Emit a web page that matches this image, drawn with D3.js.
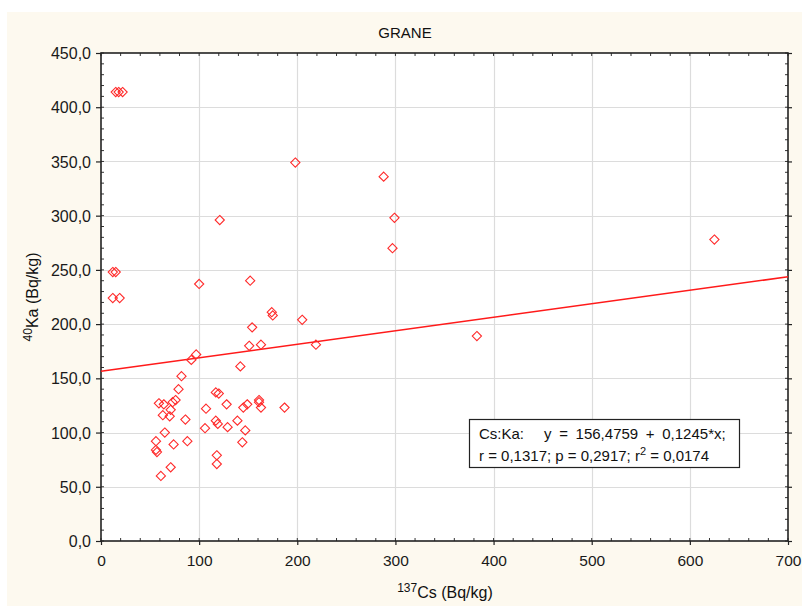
<!DOCTYPE html>
<html>
<head>
<meta charset="utf-8">
<script src="https://cdn.jsdelivr.net/npm/d3@7"></script>
<style>
  html, body { margin: 0; padding: 0; background: #ffffff; }
  svg { display: block; font-family: "Liberation Sans", Arial, sans-serif; }
</style>
</head>
<body>
<svg id="chart" width="803" height="606"></svg>
<script>
// 137Cs activity (x) and 40K activity (y), Bq/kg, GRANE samples
const cs = [15, 18, 22, 12, 15, 12, 19, 100, 121, 152, 174, 175, 205, 154, 151, 163, 219,
            198, 288, 299, 297, 625, 383, 92, 97, 142, 82, 79, 59, 64, 73, 76, 71, 63, 70,
            86, 65, 56, 56, 57, 74, 88, 71, 61, 107, 117, 120, 128, 145, 149, 161, 161, 163,
            187, 117, 119, 139, 129, 106, 147, 144, 118, 118];
const ka = [414, 414, 414, 248, 248, 224, 224, 237, 296, 240, 211, 208, 204, 197, 180, 181, 181,
            349, 336, 298, 270, 278, 189, 167, 172, 161, 152, 140, 127, 126, 128, 130, 121, 116, 115,
            112, 100, 92, 84, 82, 89, 92, 68, 60, 122, 137, 136, 126, 123, 126, 130, 128, 123,
            123, 111, 108, 111, 105, 104, 102, 91, 79, 71];

// Linear fit y = a + b*x
const fitIntercept = 156.4759;
const fitSlope = 0.1245;
const fitR = "0,1317", fitP = "0,2917", fitR2 = "0,0174";

const xTicks = [0, 100, 200, 300, 400, 500, 600, 700];
const yTicks = [0, 50, 100, 150, 200, 250, 300, 350, 400, 450];
const xMinor = d3.range(0, 701, 20);
const yMinor = d3.range(0, 451, 10);

const title = "GRANE";

const svg = d3.select("#chart");
const W = 803, H = 606;
const m = { left: 101, right: 788, top: 53, bottom: 541 };
const comma = v => v.replace(".", ",");

// panel background
svg.append("rect").attr("x", 7).attr("y", 12).attr("width", 795).attr("height", H - 12)
  .attr("fill", "#fdf9ef");

const x = d3.scaleLinear().domain([0, 700]).range([m.left, m.right]);
const y = d3.scaleLinear().domain([0, 450]).range([m.bottom, m.top]);

// plot area
svg.append("rect").attr("x", m.left).attr("y", m.top)
  .attr("width", m.right - m.left).attr("height", m.bottom - m.top).attr("fill", "#ffffff");

// grid
const grid = svg.append("g").attr("stroke", "#dcdcdc").attr("stroke-width", 1.2);
grid.selectAll("line.gx").data(xTicks.slice(1, -1)).join("line")
  .attr("x1", d => Math.round(x(d)) + 0.5).attr("x2", d => Math.round(x(d)) + 0.5)
  .attr("y1", m.top).attr("y2", m.bottom);
grid.selectAll("line.gy").data(yTicks.slice(1, -1)).join("line")
  .attr("y1", d => Math.round(y(d)) + 0.5).attr("y2", d => Math.round(y(d)) + 0.5)
  .attr("x1", m.left).attr("x2", m.right);

// minor ticks (inside frame)
const tk = svg.append("g").attr("stroke", "#333").attr("stroke-width", 1);
tk.selectAll("line.mb").data(xMinor).join("line")
  .attr("x1", d => x(d)).attr("x2", d => x(d)).attr("y1", m.bottom).attr("y2", m.bottom - 3);
tk.selectAll("line.mt").data(xMinor).join("line")
  .attr("x1", d => x(d)).attr("x2", d => x(d)).attr("y1", m.top).attr("y2", m.top + 3);
tk.selectAll("line.ml").data(yMinor).join("line")
  .attr("y1", d => y(d)).attr("y2", d => y(d)).attr("x1", m.left).attr("x2", m.left + 3);
tk.selectAll("line.mr").data(yMinor).join("line")
  .attr("y1", d => y(d)).attr("y2", d => y(d)).attr("x1", m.right).attr("x2", m.right - 3);

// axes with major ticks
const xAxis = svg.append("g").attr("transform", `translate(0,${m.bottom})`)
  .call(d3.axisBottom(x).tickValues(xTicks).tickSize(4).tickFormat(d3.format("d")));
const yAxis = svg.append("g").attr("transform", `translate(${m.left},0)`)
  .call(d3.axisLeft(y).tickValues(yTicks).tickSize(5).tickFormat(d => comma(d.toFixed(1))));
const yAxisR = svg.append("g").attr("transform", `translate(${m.right},0)`)
  .call(d3.axisRight(y).tickValues(yTicks).tickSize(4).tickFormat(""));
[xAxis, yAxis, yAxisR].forEach(g => {
  g.select(".domain").remove();
  g.selectAll(".tick line").attr("stroke", "#222").attr("stroke-width", 1.2);
  g.selectAll("text").attr("fill", "#1a1a1a").attr("font-size", 15.5)
    .attr("font-family", "\"Liberation Sans\", Arial, sans-serif");
});
xAxis.selectAll("text").attr("dy", null).attr("y", 25);
yAxis.selectAll("text").attr("x", -10).attr("dy", "0.35em").attr("font-size", 16);

// frame
svg.append("rect").attr("x", m.left).attr("y", m.top)
  .attr("width", m.right - m.left).attr("height", m.bottom - m.top)
  .attr("fill", "none").attr("stroke", "#222").attr("stroke-width", 1.6);

// regression line
svg.append("line")
  .attr("x1", x(0)).attr("y1", y(fitIntercept))
  .attr("x2", x(700)).attr("y2", y(fitIntercept + fitSlope * 700))
  .attr("stroke", "#ff1a1a").attr("stroke-width", 1.5);

// points (open diamonds)
const pts = cs.map((c, i) => ({ c, k: ka[i] }));
const r = 4.6;
svg.append("g").selectAll("path").data(pts).join("path")
  .attr("transform", d => `translate(${x(d.c)},${y(d.k)})`)
  .attr("d", `M0,${-r}L${r},0L0,${r}L${-r},0Z`)
  .attr("fill", "none").attr("stroke", "#ff2a2a").attr("stroke-width", 1.1);

// fit statistics box
const box = svg.append("g");
box.append("rect").attr("x", 469.5).attr("y", 419.5).attr("width", 270).attr("height", 48)
  .attr("fill", "#ffffff").attr("stroke", "#222").attr("stroke-width", 1.2);
const t1 = box.append("text").attr("y", 439).attr("font-size", 15).attr("fill", "#111");
t1.append("tspan").attr("x", 479).text("Cs:Ka:");
t1.append("tspan").attr("x", 544).attr("word-spacing", 3.5)
  .text(`y = ${comma(fitIntercept.toFixed(4))} + ${comma(fitSlope.toFixed(4))}*x;`);
const t2 = box.append("text").attr("x", 479).attr("y", 461).attr("font-size", 15).attr("fill", "#111");
t2.append("tspan").text(`r = ${fitR}; p = ${fitP}; r`);
t2.append("tspan").attr("dy", -6).attr("font-size", 11).text("2");
t2.append("tspan").attr("dy", 6).text(` = ${fitR2}`);

// title
svg.append("text").attr("x", 405).attr("y", 38).attr("text-anchor", "middle")
  .attr("font-size", 15).attr("fill", "#111").text(title);

// x-axis title
const xl = svg.append("text").attr("x", 445).attr("y", 598).attr("text-anchor", "middle")
  .attr("font-size", 16).attr("fill", "#111");
xl.append("tspan").attr("font-size", 12).attr("dy", -6).text("137");
xl.append("tspan").attr("dy", 6).text("Cs (Bq/kg)");

// y-axis title
const yl = svg.append("text").attr("transform", "translate(38,297) rotate(-90)")
  .attr("text-anchor", "middle").attr("font-size", 16).attr("fill", "#111");
yl.append("tspan").attr("font-size", 12).attr("dy", -6).text("40");
yl.append("tspan").attr("dy", 6).text("Ka (Bq/kg)");
</script>
</body>
</html>
